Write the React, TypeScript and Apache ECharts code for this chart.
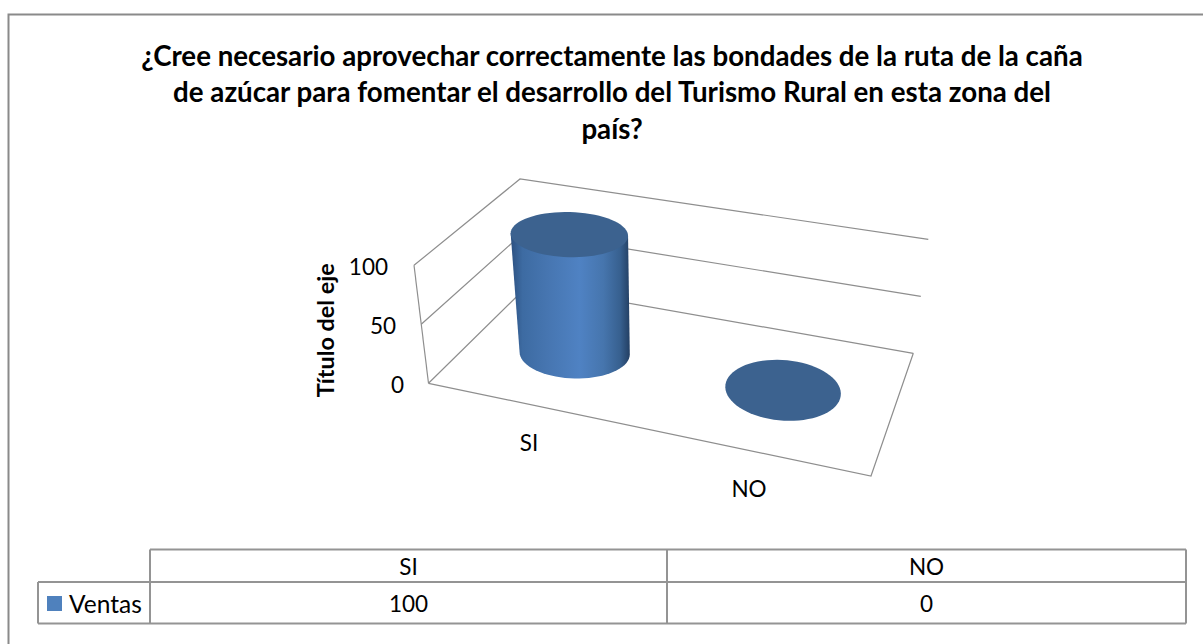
import React, { useEffect, useRef } from "react";
import * as echarts from "echarts";

const titleLines = [
  "¿Cree necesario aprovechar correctamente las bondades de la ruta de la caña",
  "de azúcar para fomentar el desarrollo del Turismo Rural en esta zona del",
  "país?",
];
const categories = ["SI", "NO"];
const seriesName = "Ventas";
const ventas = [100, 0];
const yTicks = [0, 50, 100];
const yAxisTitle = "Título del eje";

const FONT = "Lato, Carlito, sans-serif";
const LINE = "#8e8e8e";
const TABLE = "#949494";
const SIZE = 22.5;
const GRID = { left: 419, top: 266.3, width: 440, height: 118 };

// Floor corners of the tilted 3D box, with the screen vector of a full-height rise at each.
const A = { x: 428.5, y: 383.3, rx: -14.5, ry: -118 };
const B = { x: 871, y: 476, rx: 15, ry: -125 };
const C = { x: 913.3, y: 353.3, rx: 15, ry: -114 };
const D = { x: 528, y: 285.5, rx: -8, ry: -106.5 };

const mix = (a: number, b: number, t: number) => a + (b - a) * t;
function project(u: number, d: number, v: number): [number, number] {
  const get = (k: "x" | "y" | "rx" | "ry") =>
    mix(mix(A[k], B[k], u), mix(D[k], C[k], u), d);
  return [get("x") + get("rx") * v, get("y") + get("ry") * v];
}
const fromPixel = (p: number[]) => ({
  u: (p[0] - GRID.left) / GRID.width,
  v: (GRID.top + GRID.height - p[1]) / GRID.height,
});

const renderWalls = (_: any, api: any) => {
  const { v } = fromPixel(api.coord([0, api.value(1)]));
  const children: any[] = [
    {
      type: "polyline",
      shape: { points: [project(0, 0, v), project(0, 1, v), project(1, 1, v)] },
      style: { stroke: LINE, lineWidth: 1.2, fill: "none" },
    },
  ];
  if (v === 0) {
    children.push(
      {
        type: "polyline",
        shape: { points: [project(0, 0, 0), project(1, 0, 0), project(1, 1, 0)] },
        style: { stroke: LINE, lineWidth: 1.2, fill: "none" },
      },
      {
        type: "line",
        shape: {
          x1: project(0, 0, 0)[0],
          y1: project(0, 0, 0)[1],
          x2: project(0, 0, 1)[0],
          y2: project(0, 0, 1)[1],
        },
        style: { stroke: LINE, lineWidth: 1.2 },
      }
    );
  }
  return { type: "group", children };
};

const RU = 0.136;
const RD = 0.246;
const BODY = new echarts.graphic.LinearGradient(0, 0, 1, 0, [
  { offset: 0, color: "#2c5080" },
  { offset: 0.1, color: "#3d6ba2" },
  { offset: 0.3, color: "#4675b0" },
  { offset: 0.58, color: "#4f82c3" },
  { offset: 0.78, color: "#4675ad" },
  { offset: 0.92, color: "#37608f" },
  { offset: 1, color: "#233f63" },
]);

const renderCylinder = (_: any, api: any) => {
  const { u: u0, v: v0 } = fromPixel(api.coord([api.value(0), api.value(1)]));
  const v = v0 * 1.04;
  const u = u0 - 0.017;
  const d = 0.4875 + 0.05 * u0;
  const s = 0.875 + 0.165 * u0;
  const ring = (h: number, t: number) => {
    const c = project(u, d, h);
    const uP = project(u + RU * s, d, h);
    const dP = project(u, d + RD * s, h);
    return [
      c[0] + (uP[0] - c[0]) * Math.cos(t) + (dP[0] - c[0]) * Math.sin(t),
      c[1] + (uP[1] - c[1]) * Math.cos(t) + (dP[1] - c[1]) * Math.sin(t),
    ];
  };
  const c0 = project(u, d, v);
  const ax = project(u + RU * s, d, v)[0] - c0[0];
  const bx = project(u, d + RD * s, v)[0] - c0[0];
  const t0 = Math.atan2(bx, ax);
  const N = 72;
  const full = Array.from({ length: N }, (_x, i) => ring(v, (i / N) * 2 * Math.PI));
  const children: any[] = [];
  if (v > 0) {
    // Lower half of the base: of the two arcs between the x extremes, the one lower on screen.
    const sign = ring(0, t0 + Math.PI / 2)[1] > ring(0, t0 - Math.PI / 2)[1] ? 1 : -1;
    const lower = Array.from({ length: 37 }, (_x, i) => ring(0, t0 + (sign * i * Math.PI) / 36));
    const body = [ring(v, t0), ...lower, ring(v, t0 + Math.PI)];
    children.push({
      type: "polygon",
      shape: { points: body },
      style: { fill: BODY, stroke: "none" },
    });
  }
  children.push({
    type: "polygon",
    shape: { points: full },
    style: { fill: "#3c628f", stroke: "none" },
  });
  return { type: "group", children };
};

const tableX = { legend: 38, start: 150, mid: 667, end: 1186 };
const tableY = { top: 549.5, mid: 582, bottom: 623.5 };

function tableGraphics() {
  const ln = (x1: number, y1: number, x2: number, y2: number) => ({
    type: "line",
    shape: { x1, y1, x2, y2 },
    style: { stroke: TABLE, lineWidth: 2 },
  });
  const txt = (text: string, x: number, y: number) => ({
    type: "text",
    x,
    y,
    style: {
      text,
      fill: "#000",
      font: `${SIZE}px ${FONT}`,
      align: "center",
      verticalAlign: "middle",
    },
  });
  const centers = [(tableX.start + tableX.mid) / 2, (tableX.mid + tableX.end) / 2];
  return [
    {
      type: "polyline",
      shape: { points: [[8.5, 644], [8.5, 14.5], [1203, 14.5]] },
      style: { stroke: "#8a8a8a", lineWidth: 2, fill: "none" },
    },
    ln(tableX.start, tableY.top, tableX.end, tableY.top),
    ln(tableX.legend, tableY.mid, tableX.end, tableY.mid),
    ln(tableX.legend, tableY.bottom, tableX.end, tableY.bottom),
    ln(tableX.legend, tableY.mid, tableX.legend, tableY.bottom),
    ln(tableX.start, tableY.top, tableX.start, tableY.bottom),
    ln(tableX.mid, tableY.top, tableX.mid, tableY.bottom),
    ln(tableX.end, tableY.top, tableX.end, tableY.bottom),
    ...categories.map((c, i) => txt(c, centers[i], (tableY.top + tableY.mid) / 2 + 1)),
    ...ventas.map((v, i) => txt(String(v), centers[i], (tableY.mid + tableY.bottom) / 2 + 1)),
  ];
}

export default function App() {
  const ref = useRef<HTMLDivElement>(null);
  useEffect(() => {
    document.body.style.margin = "0";
    const chart = echarts.init(ref.current!, undefined, { renderer: "svg" });
    const label = { fontFamily: FONT, fontSize: SIZE, color: "#000" };
    chart.setOption({
      animation: false,
      backgroundColor: "#fff",
      textStyle: { fontFamily: FONT },
      title: {
        text: titleLines.join("\n"),
        left: 607,
        top: 32,
        textAlign: "center",
        textStyle: {
          fontFamily: FONT,
          fontWeight: "bold",
          fontSize: 27.7,
          lineHeight: 36.5,
          color: "#000",
        },
      },
      legend: {
        data: [seriesName],
        left: 47,
        top: 591,
        icon: "rect",
        itemWidth: 15,
        itemHeight: 15,
        itemGap: 0,
        padding: 0,
        itemStyle: { color: "#4f81bd" },
        textStyle: { fontFamily: FONT, fontSize: 24.5, color: "#000", padding: [2, 0, 0, 2] },
      },
      grid: GRID,
      xAxis: {
        type: "category",
        data: categories,
        axisLine: { show: false },
        axisTick: { show: false },
        axisLabel: {
          margin: 47,
          ...label,
          formatter: (c: string) => (c === categories[1] ? `{far|${c}}` : `{near|${c}}`),
          rich: {
            near: label,
            far: { ...label, padding: [46, 0, 0, 0] },
          },
        },
      },
      yAxis: {
        type: "value",
        min: 0,
        max: 100,
        interval: 50,
        axisLine: { show: false },
        axisTick: { show: false },
        splitLine: { show: false },
        name: yAxisTitle,
        nameLocation: "middle",
        nameGap: 83,
        nameRotate: 90,
        nameTextStyle: {
          fontFamily: FONT,
          fontWeight: "bold",
          fontSize: 23.4,
          color: "#000",
          padding: [0, 10, 0, 0],
        },
        axisLabel: {
          margin: 15,
          align: "right",
          formatter: (v: number) => `{t${v}|${v}}`,
          rich: {
            t0: label,
            t50: { ...label, padding: [0, 8, 0, 0] },
            t100: { ...label, padding: [0, 16, 0, 0] },
          },
        },
      },
      graphic: tableGraphics(),
      series: [
        {
          name: "grid",
          type: "custom",
          silent: true,
          z: 1,
          renderItem: renderWalls,
          encode: { x: 0, y: 1 },
          data: yTicks.map((t) => [categories[0], t]),
        },
        {
          name: seriesName,
          type: "custom",
          z: 2,
          renderItem: renderCylinder,
          encode: { x: 0, y: 1 },
          itemStyle: { color: "#4f81bd" },
          data: categories.map((c, i) => [c, ventas[i]]),
        },
      ],
    });
    return () => chart.dispose();
  }, []);
  return <div ref={ref} style={{ width: 1203, height: 644 }} />;
}
